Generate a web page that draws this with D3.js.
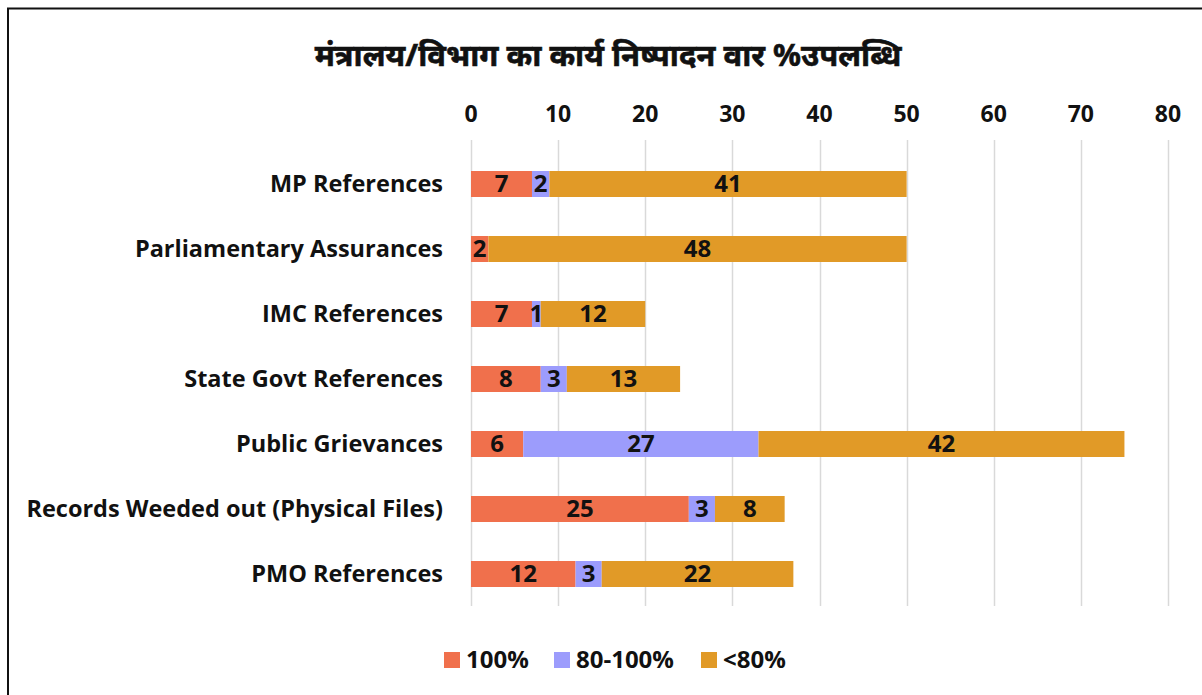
<!DOCTYPE html>
<html>
<head>
<meta charset="utf-8">
<script src="https://cdn.jsdelivr.net/npm/d3@7"></script>
<style>
  body { margin: 0; background: #fff; }
  svg text { font-family: "Open Sans", Lato, sans-serif; font-weight: bold; fill: #111; }
</style>
</head>
<body>
<script>
// chart data
var categories = ["MP References", "Parliamentary Assurances", "IMC References",
  "State Govt References", "Public Grievances", "Records Weeded out (Physical Files)", "PMO References"];
var seriesNames = ["100%", "80-100%", "<80%"];
var full = [7, 2, 7, 8, 6, 25, 12];
var mid = [2, 0, 1, 3, 27, 3, 3];
var low = [41, 48, 12, 13, 42, 8, 22];
var ticks = [0, 10, 20, 30, 40, 50, 60, 70, 80];
var colors = ["#F0704C", "#9C9CFC", "#E19A27"];

var width = 1202, height = 695;

var svg = d3.select("body").append("svg")
    .attr("width", width)
    .attr("height", height);

// outer frame
svg.append("rect")
    .attr("x", 8).attr("y", 8.5)
    .attr("width", 1200).attr("height", 700)
    .attr("fill", "none")
    .attr("stroke", "#111")
    .attr("stroke-width", 2);

var x = d3.scaleLinear().domain([0, 80]).range([471, 1168]);
var y = d3.scaleBand().domain(categories).range([151.5, 606.5])
    .paddingInner(0.6).paddingOuter(0.3);

// gridlines
svg.append("g").selectAll("line")
  .data(ticks)
  .enter().append("line")
    .attr("x1", function(d) { return Math.round(x(d)) + 0.5; })
    .attr("x2", function(d) { return Math.round(x(d)) + 0.5; })
    .attr("y1", 140).attr("y2", 606)
    .attr("stroke", "#d9d9d9")
    .attr("stroke-width", 1.5);

// top axis labels
svg.append("g").selectAll("text")
  .data(ticks)
  .enter().append("text")
    .attr("x", function(d) { return x(d); })
    .attr("y", 114)
    .attr("dy", "0.35em")
    .attr("text-anchor", "middle")
    .style("font-size", "23px")
    .text(function(d) { return d; });

// stacked rows
var rows = categories.map(function(c, i) {
  return { name: c, values: [full[i], mid[i], low[i]] };
});
var stack = d3.stack().keys([0, 1, 2]).value(function(d, k) { return d.values[k]; });
var layers = stack(rows);

var layer = svg.append("g").selectAll("g")
  .data(layers)
  .enter().append("g")
    .attr("fill", function(d, i) { return colors[i]; });

layer.selectAll("rect")
  .data(function(d) { return d; })
  .enter().append("rect")
    .attr("x", function(d) { return x(d[0]); })
    .attr("y", function(d) { return y(d.data.name); })
    .attr("width", function(d) { return x(d[1]) - x(d[0]); })
    .attr("height", y.bandwidth());

layer.selectAll("text")
  .data(function(d) { return d.filter(function(s) { return s[1] - s[0] > 0; }); })
  .enter().append("text")
    .attr("x", function(d) { return (x(d[0]) + x(d[1])) / 2; })
    .attr("y", function(d) { return y(d.data.name) + y.bandwidth() / 2; })
    .attr("dy", "0.35em")
    .attr("text-anchor", "middle")
    .style("font-size", "24px")
    .text(function(d) { return d[1] - d[0]; });

// category labels
svg.append("g").selectAll("text")
  .data(categories)
  .enter().append("text")
    .attr("x", 443)
    .attr("y", function(d) { return y(d) + y.bandwidth() / 2; })
    .attr("dy", "0.35em")
    .attr("text-anchor", "end")
    .style("font-size", "23.5px")
    .text(function(d) { return d; });

// title
svg.append("text")
    .attr("x", 608).attr("y", 55)
    .attr("dy", "0.35em")
    .attr("text-anchor", "middle")
    .style("font-family", "'Noto Sans', sans-serif")
    .style("font-size", "31px")
    .style("stroke", "#111")
    .style("stroke-width", 0.6)
    .text("मंत्रालय/विभाग का कार्य निष्पादन वार %उपलब्धि");

// legend
var legendX = [444, 554, 701];
var legend = svg.append("g").selectAll("g")
  .data(seriesNames)
  .enter().append("g")
    .attr("transform", function(d, i) { return "translate(" + legendX[i] + ",652)"; });
legend.append("rect")
    .attr("width", 16).attr("height", 16)
    .attr("fill", function(d, i) { return colors[i]; });
legend.append("text")
    .attr("x", 22).attr("y", 8)
    .attr("dy", "0.35em")
    .style("font-size", "24px")
    .text(function(d) { return d; });
</script>
</body>
</html>
